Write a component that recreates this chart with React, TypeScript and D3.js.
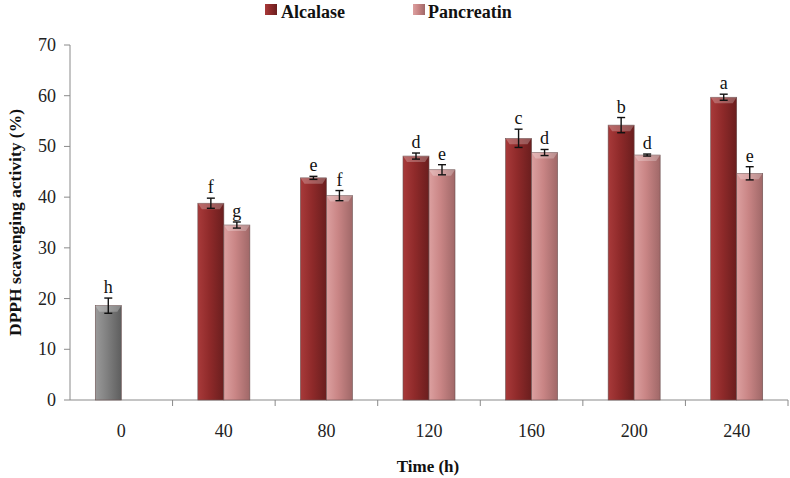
import React from 'react';
import * as d3 from 'd3';

const times = ['0', '40', '80', '120', '160', '200', '240'];
const alcalase = [18.6, 38.8, 43.8, 48.1, 51.6, 54.2, 59.7];
const alcalaseErr = [1.5, 1.0, 0.3, 0.6, 1.8, 1.5, 0.6];
const alcalaseLetters = ['h', 'f', 'e', 'd', 'c', 'b', 'a'];
const pancreatin = [null, 34.5, 40.3, 45.4, 48.8, 48.3, 44.7];
const pancreatinErr = [0, 0.6, 1.0, 1.0, 0.6, 0.2, 1.3];
const pancreatinLetters = ['', 'g', 'f', 'e', 'd', 'd', 'e'];
const yTicks = [0, 10, 20, 30, 40, 50, 60, 70];

const W = 790;
const H = 478;
const m = { left: 70, right: 2, top: 45, bottom: 78 };
const font = '"Liberation Serif", "DejaVu Serif", serif';

export default function App() {
  const x = d3.scaleBand().domain(times).range([m.left, W - m.right]);
  const y = d3.scaleLinear().domain([0, 70]).range([H - m.bottom, m.top]);
  const bw = 26;
  const y0 = y(0);

  const bar = (v: number, err: number, letter: string, bx: number, fill: string, key: string) => (
    <g key={key}>
      <rect x={bx} y={y(v)} width={bw} height={y0 - y(v)} fill={fill} stroke="#6b5050" strokeWidth={0.6} />
      <path d={`M${bx},${y(v)} h${bw} l-4,6 h${-bw + 8} Z`} fill="#ffffff" opacity={0.25} />
      <g stroke="#111" strokeWidth={1.4}>
        <line x1={bx + bw / 2} x2={bx + bw / 2} y1={y(v + err)} y2={y(v - err)} />
        <line x1={bx + bw / 2 - 4} x2={bx + bw / 2 + 4} y1={y(v + err)} y2={y(v + err)} />
        <line x1={bx + bw / 2 - 4} x2={bx + bw / 2 + 4} y1={y(v - err)} y2={y(v - err)} />
      </g>
      <text x={bx + bw / 2} y={y(v + err) - 5} textAnchor="middle" fontSize={18} fontFamily={font} fill="#111">
        {letter}
      </text>
    </g>
  );

  return (
    <svg width={W} height={H} style={{ position: 'absolute', left: 0, top: 0, background: '#fff' }}>
      <defs>
        <linearGradient id="gA" x1="0" x2="1" y1="0" y2="0">
          <stop offset="0" stopColor="#a83a3a" />
          <stop offset="0.45" stopColor="#8f2a2a" />
          <stop offset="1" stopColor="#6a1e1e" />
        </linearGradient>
        <linearGradient id="gP" x1="0" x2="1" y1="0" y2="0">
          <stop offset="0" stopColor="#dca0a0" />
          <stop offset="0.45" stopColor="#c98585" />
          <stop offset="1" stopColor="#a06868" />
        </linearGradient>
        <linearGradient id="gG" x1="0" x2="1" y1="0" y2="0">
          <stop offset="0" stopColor="#9a9a9a" />
          <stop offset="0.45" stopColor="#808080" />
          <stop offset="1" stopColor="#5e5e5e" />
        </linearGradient>
      </defs>

      {/* y axis */}
      <line x1={m.left} x2={m.left} y1={y(70)} y2={y0} stroke="#8a8a8a" />
      {yTicks.map((t) => (
        <g key={t}>
          <line x1={m.left - 6} x2={m.left} y1={y(t)} y2={y(t)} stroke="#8a8a8a" />
          <text x={m.left - 14} y={y(t) + 6} textAnchor="end" fontSize={18} fontFamily={font} fill="#222">
            {t}
          </text>
        </g>
      ))}

      {/* x axis */}
      <line x1={m.left} x2={W - m.right} y1={y0} y2={y0} stroke="#8a8a8a" />
      {times.map((t) => (
        <g key={t}>
          <line x1={x(t)! + x.bandwidth()} x2={x(t)! + x.bandwidth()} y1={y0} y2={y0 + 6} stroke="#8a8a8a" />
          <text x={x(t)! + x.bandwidth() / 2} y={y0 + 37} textAnchor="middle" fontSize={18} fontFamily={font} fill="#222">
            {t}
          </text>
        </g>
      ))}

      {times.map((t, i) => {
        const c = x(t)! + x.bandwidth() / 2;
        const p = pancreatin[i];
        return (
          <g key={t}>
            {bar(alcalase[i], alcalaseErr[i], alcalaseLetters[i], c - bw, i === 0 ? 'url(#gG)' : 'url(#gA)', 'a')}
            {p !== null && bar(p, pancreatinErr[i], pancreatinLetters[i], c, 'url(#gP)', 'p')}
          </g>
        );
      })}

      {/* legend */}
      <rect x={265} y={4} width={12} height={11} fill="url(#gA)" />
      <text x={281} y={18} fontSize={18} fontWeight="bold" fontFamily={font} fill="#111">Alcalase</text>
      <rect x={413} y={4} width={12} height={11} fill="url(#gP)" />
      <text x={428} y={18} fontSize={18} fontWeight="bold" fontFamily={font} fill="#111">Pancreatin</text>

      {/* titles */}
      <text transform={`translate(21,${(y(70) + y0) / 2}) rotate(-90)`} textAnchor="middle" fontSize={17.5} fontWeight="bold" fontFamily={font} fill="#111">
        DPPH scavenging activity (%)
      </text>
      <text x={428} y={472} textAnchor="middle" fontSize={17} fontWeight="bold" fontFamily={font} fill="#111">
        Time (h)
      </text>
    </svg>
  );
}
